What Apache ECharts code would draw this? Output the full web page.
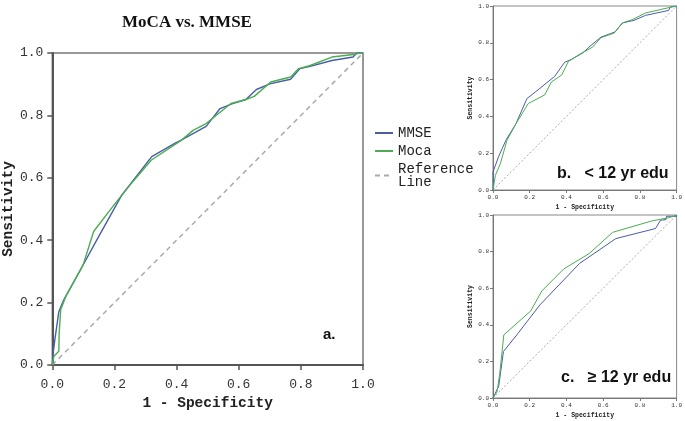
<!DOCTYPE html>
<html>
<head>
<meta charset="utf-8">
<title>MoCA vs. MMSE</title>
<script src="https://cdn.jsdelivr.net/npm/echarts@6/dist/echarts.min.js"></script>
<style>
  html, body { margin: 0; padding: 0; background: #fff; }
  #chart { width: 685px; height: 421px; }
</style>
</head>
<body>
<div id="chart"></div>
<script>
// tick values shared by every axis
var ticks = [0, 0.2, 0.4, 0.6, 0.8, 1.0];

// a. all subjects  [1 - specificity, sensitivity]
var mainMmse = [[0,0],[0.003,0.04],[0.008,0.08],[0.021,0.171],[0.037,0.209],[0.096,0.315],[0.154,0.42],[0.224,0.545],[0.32,0.668],[0.394,0.71],[0.415,0.721],[0.495,0.765],[0.54,0.822],[0.578,0.837],[0.623,0.851],[0.657,0.883],[0.70,0.901],[0.767,0.916],[0.797,0.95],[0.83,0.957],[0.9,0.976],[0.968,0.987],[0.98,1.0],[1,1]];
var mainMoca = [[0,0],[0.005,0.028],[0.021,0.044],[0.022,0.1],[0.027,0.177],[0.043,0.219],[0.099,0.32],[0.133,0.428],[0.2,0.515],[0.245,0.571],[0.319,0.657],[0.415,0.72],[0.453,0.752],[0.495,0.774],[0.575,0.838],[0.623,0.851],[0.65,0.861],[0.703,0.907],[0.767,0.923],[0.793,0.95],[0.83,0.96],[0.9,0.987],[0.969,0.995],[0.99,1.0],[1,1]];

// b. < 12 yr edu
var bMmse = [[0,0],[0,0.098],[0.03,0.18],[0.07,0.27],[0.125,0.36],[0.185,0.497],[0.25,0.548],[0.336,0.618],[0.39,0.694],[0.426,0.709],[0.489,0.745],[0.534,0.786],[0.588,0.831],[0.665,0.859],[0.705,0.908],[0.768,0.922],[0.831,0.949],[0.957,0.976],[0.966,0.995],[1,1]];
var bMoca = [[0,0],[0.013,0.08],[0.04,0.143],[0.076,0.27],[0.125,0.36],[0.192,0.47],[0.282,0.517],[0.318,0.587],[0.375,0.626],[0.41,0.698],[0.471,0.737],[0.543,0.777],[0.588,0.828],[0.66,0.853],[0.705,0.908],[0.759,0.926],[0.831,0.962],[0.957,0.991],[1,1]];

// c. >= 12 yr edu
var cMmse = [[0,0],[0.013,0.027],[0.031,0.064],[0.057,0.254],[0.13,0.345],[0.255,0.508],[0.471,0.735],[0.669,0.871],[0.885,0.926],[0.912,0.971],[0.942,0.975],[0.945,0.993],[1,0.993],[1,1]];
var cMoca = [[0,0],[0.022,0.036],[0.036,0.127],[0.059,0.345],[0.205,0.475],[0.266,0.585],[0.385,0.705],[0.525,0.79],[0.651,0.905],[0.867,0.968],[0.957,0.985],[1,1]];

// diagonal reference
var refLine = [[0,0],[1,1]];

var blue = '#4b5ca8';
var green = '#4aae50';
var gray = '#aaaaaa';
var mono = 'Liberation Mono';

var myChart = echarts.init(document.getElementById('chart'));

function makeAxis(idx, big, isX) {
    var o = {
        type: 'value',
        gridIndex: idx,
        min: 0,
        max: 1,
        interval: 0.2,
        splitLine: { show: false },
        axisLine: { show: true, lineStyle: { color: big ? '#555' : '#777', width: big ? 2 : 1 } },
        axisTick: { show: true, inside: false, length: big ? 5 : 3, lineStyle: { color: big ? '#555' : '#777', width: big ? 1.5 : 1 } },
        axisLabel: {
            fontFamily: mono,
            fontSize: big ? 13 : 6,
            color: '#333',
            margin: big ? (isX ? 13 : 9) : 4,
            formatter: function (v) { return v.toFixed(1); }
        },
        name: isX ? '1 - Specificity' : 'Sensitivity',
        nameLocation: 'middle',
        nameGap: big ? (isX ? 31 : 30) : 14,
        nameTextStyle: { fontFamily: mono, fontWeight: 'bold', fontSize: big ? 14.5 : 6.5, color: '#222' }
    };
    return o;
}

function rocSeries(idx, name, data, color) {
    return {
        name: name,
        type: 'line',
        xAxisIndex: idx,
        yAxisIndex: idx,
        data: data,
        symbol: 'none',
        showSymbol: false,
        lineStyle: { color: color, width: idx === 0 ? 1.4 : 1 },
        itemStyle: { color: color },
        z: 3
    };
}

function refSeries(idx) {
    return {
        name: 'Reference\nLine',
        type: 'line',
        xAxisIndex: idx,
        yAxisIndex: idx,
        data: refLine,
        symbol: 'none',
        showSymbol: false,
        lineStyle: { color: gray, width: idx === 0 ? 1.5 : 1, type: idx === 0 ? [5, 4] : [2, 2] },
        itemStyle: { color: gray },
        z: 2
    };
}

var option = {
    animation: false,
    backgroundColor: '#fff',
    title: [
        { text: 'MoCA vs. MMSE', left: 182, top: 9, textAlign: 'center',
          textStyle: { fontFamily: 'Liberation Serif', fontWeight: 'bold', fontSize: 17, color: '#111' } },
        { text: 'a.', left: 318, top: 322,
          textStyle: { fontFamily: 'Liberation Sans', fontWeight: 'bold', fontSize: 15, color: '#111' } },
        { text: 'b.   < 12 yr edu', left: 552, top: 161,
          textStyle: { fontFamily: 'Liberation Sans', fontWeight: 'bold', fontSize: 16, color: '#111' } },
        { text: 'c.   \u2265 12 yr edu', left: 556, top: 365,
          textStyle: { fontFamily: 'Liberation Sans', fontWeight: 'bold', fontSize: 16, color: '#111' } }
    ],
    legend: {
        orient: 'vertical',
        left: 369,
        top: 121,
        itemWidth: 18,
        itemHeight: 14,
        itemGap: 4,
        selectedMode: false,
        itemStyle: { opacity: 0 },
        textStyle: { fontFamily: mono, fontSize: 14, color: '#222', lineHeight: 13 },
        data: ['MMSE', 'Moca', 'Reference\nLine']
    },
    grid: [
        { left: 50, top: 53, width: 313, height: 312, show: true, borderColor: '#777', borderWidth: 1.5 },
        { left: 493, top: 6, width: 185, height: 184, show: true, borderColor: '#888', borderWidth: 1 },
        { left: 493, top: 215, width: 185, height: 183, show: true, borderColor: '#888', borderWidth: 1 }
    ],
    xAxis: [makeAxis(0, true, true), makeAxis(1, false, true), makeAxis(2, false, true)],
    yAxis: [makeAxis(0, true, false), makeAxis(1, false, false), makeAxis(2, false, false)],
    series: [
        refSeries(0),
        rocSeries(0, 'MMSE', mainMmse, blue),
        rocSeries(0, 'Moca', mainMoca, green),
        refSeries(1),
        rocSeries(1, 'MMSE', bMmse, blue),
        rocSeries(1, 'Moca', bMoca, green),
        refSeries(2),
        rocSeries(2, 'MMSE', cMmse, blue),
        rocSeries(2, 'Moca', cMoca, green)
    ]
};

myChart.setOption(option);
</script>
</body>
</html>
